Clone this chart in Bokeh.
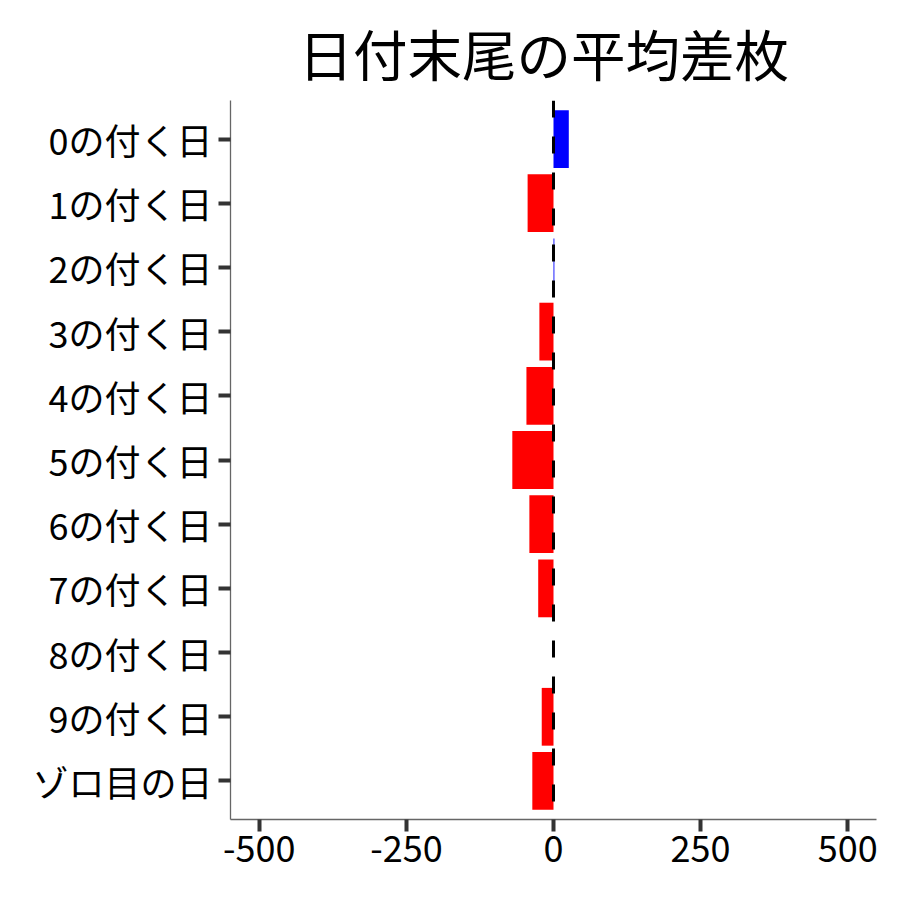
from bokeh.plotting import figure
from bokeh.models import Range1d, FixedTicker, Span
from bokeh.embed import file_html
from bokeh.resources import INLINE

categories = ["0の付く日", "1の付く日", "2の付く日", "3の付く日", "4の付く日",
              "5の付く日", "6の付く日", "7の付く日", "8の付く日", "9の付く日", "ゾロ目の日"]
values = [26, -44, 1.5, -24, -46, -70, -41, -26, 0, -20, -36]
x_ticks = [-500, -250, 0, 250, 500]
title_text = "日付末尾の平均差枚"

FONT = "Noto Sans CJK JP"
n = len(categories)
ys = list(range(n))
colors = ["#0000FF" if v > 0 else "#FF0000" for v in values]

p = figure(width=892, height=892, output_backend="svg", toolbar_location=None,
           x_range=Range1d(-549, 549), y_range=Range1d(n - 1 + 0.6, -0.6),
           min_border_left=230, min_border_right=16, min_border_top=100,
           min_border_bottom=73, title=title_text)

p.hbar(y=ys, left=0, right=values, height=0.9, fill_color=colors, line_color=None)

p.add_layout(Span(location=0, dimension="height", line_color="black",
                  line_width=3, line_dash="17 19"))

p.title.text_font = FONT
p.title.text_font_size = "54.5px"
p.title.text_font_style = "normal"
p.title.align = "left"
p.title.vertical_align = "bottom"
p.title.text_color = "black"
p.title.offset = 68
p.title.standoff = 18

p.xgrid.visible = False
p.ygrid.visible = False
p.outline_line_color = None
p.background_fill_color = "white"
p.border_fill_color = "white"

for ax in (p.xaxis, p.yaxis):
    ax.axis_line_color = "#666666"
    ax.axis_line_width = 1.3
    ax.major_tick_line_color = "#333333"
    ax.major_tick_line_width = 4
    ax.major_tick_out = 12
    ax.major_tick_in = 0
    ax.minor_tick_line_color = None
    ax.major_label_text_font = FONT
    ax.major_label_text_font_size = "36px"
    ax.major_label_text_color = "black"

p.xaxis.ticker = FixedTicker(ticks=x_ticks)
p.xaxis.major_label_overrides = {t: str(t) for t in x_ticks}
p.xaxis.major_label_standoff = 4
p.yaxis.ticker = FixedTicker(ticks=ys)
p.yaxis.major_label_overrides = {i: c for i, c in enumerate(categories)}
p.yaxis.major_label_standoff = 6

open("out.html", "w").write(file_html(p, INLINE))
